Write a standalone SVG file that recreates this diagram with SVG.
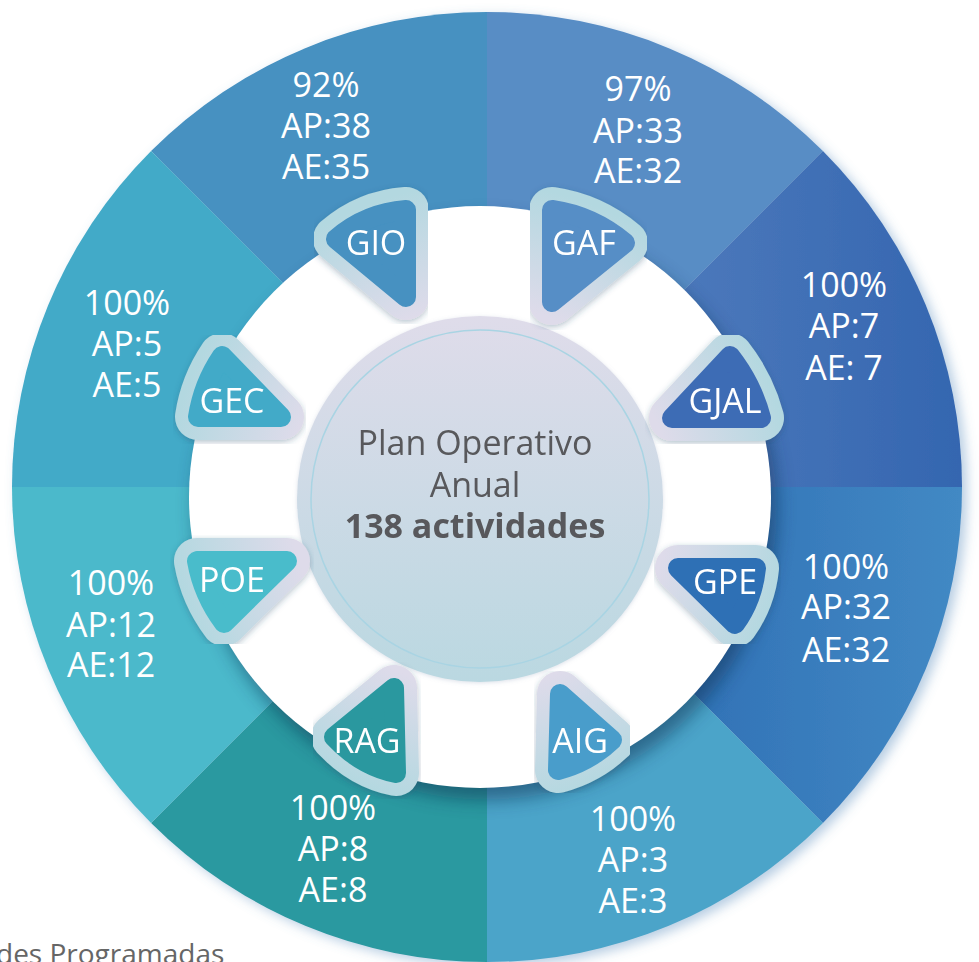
<svg xmlns="http://www.w3.org/2000/svg" width="979" height="962" viewBox="0 0 979 962">
<defs>
<style>
.lbl{font-family:"Open Sans","Noto Sans",sans-serif;font-size:34px;fill:#ffffff;text-anchor:middle}
.ctr{font-family:"Open Sans","Noto Sans",sans-serif;font-size:34px;fill:#58595b;text-anchor:middle}
.bo{fill:url(#bg);stroke:url(#bg);stroke-width:46;stroke-linejoin:round}
.bi{stroke-width:20;stroke-linejoin:round}
.foot{font-family:"Open Sans","Noto Sans",sans-serif;font-size:28px;fill:#666666}
</style>
<radialGradient id="bg" gradientUnits="userSpaceOnUse" cx="480" cy="497" r="330">
<stop offset="0.58" stop-color="#dedbea"/>
<stop offset="0.95" stop-color="#b3d8e0"/>
</radialGradient>
<linearGradient id="cg" x1="0" y1="0" x2="0" y2="1">
<stop offset="0" stop-color="#dfdcea"/>
<stop offset="1" stop-color="#bad8e1"/>
</linearGradient>
<linearGradient id="gjal" gradientUnits="userSpaceOnUse" x1="690" y1="0" x2="960" y2="0">
<stop offset="0" stop-color="#4b78bb"/>
<stop offset="1" stop-color="#3466b0"/>
</linearGradient>
<linearGradient id="gpe" gradientUnits="userSpaceOnUse" x1="700" y1="0" x2="960" y2="0">
<stop offset="0" stop-color="#3273b7"/>
<stop offset="1" stop-color="#4289c4"/>
</linearGradient>
<filter id="rs" x="-5%" y="-5%" width="115%" height="115%">
<feDropShadow dx="5" dy="4" stdDeviation="6" flood-color="#5d90bf" flood-opacity="0.45"/>
</filter>
<filter id="bl" x="-10%" y="-10%" width="120%" height="120%">
<feGaussianBlur stdDeviation="9"/>
</filter>
<filter id="ds" x="-30%" y="-30%" width="160%" height="160%">
<feDropShadow dx="0" dy="2" stdDeviation="3" flood-color="#2b4f6e" flood-opacity="0.35"/>
</filter>
<filter id="cs" x="-10%" y="-10%" width="120%" height="120%">
<feDropShadow dx="0" dy="1" stdDeviation="2" flood-color="#8a9ab8" flood-opacity="0.3"/>
</filter>
</defs>

<g id="ring" filter="url(#rs)">
<path d="M487,487 L151.1,151.1 A475,475 0 0 1 487,12 Z" fill="#4691c1"/>
<path d="M487,487 L487,12 A475,475 0 0 1 822.9,151.1 Z" fill="#588dc5"/>
<path d="M487,487 L822.9,151.1 A475,475 0 0 1 962,487 Z" fill="url(#gjal)"/>
<path d="M487,487 L962,487 A475,475 0 0 1 822.9,822.9 Z" fill="url(#gpe)"/>
<path d="M487,487 L822.9,822.9 A475,475 0 0 1 487,962 Z" fill="#4ba4c9"/>
<path d="M487,487 L487,962 A475,475 0 0 1 151.1,822.9 Z" fill="#2a99a0"/>
<path d="M487,487 L151.1,822.9 A475,475 0 0 1 12,487 Z" fill="#4bb9cb"/>
<path d="M487,487 L12,487 A475,475 0 0 1 151.1,151.1 Z" fill="#42aac8"/>
</g>
<circle cx="486" cy="509" r="291" fill="#082f50" opacity="0.5" filter="url(#bl)"/>
<circle cx="480" cy="497" r="291" fill="#ffffff"/>

<g id="sector-labels">
<text class="lbl"><tspan x="326" y="97">92%</tspan><tspan x="326" y="138">AP:38</tspan><tspan x="326" y="179">AE:35</tspan></text>
<text class="lbl"><tspan x="638" y="101">97%</tspan><tspan x="638" y="143">AP:33</tspan><tspan x="638" y="183">AE:32</tspan></text>
<text class="lbl"><tspan x="844" y="297">100%</tspan><tspan x="844" y="338">AP:7</tspan><tspan x="844" y="380">AE: 7</tspan></text>
<text class="lbl"><tspan x="846" y="579">100%</tspan><tspan x="846" y="619">AP:32</tspan><tspan x="846" y="662">AE:32</tspan></text>
<text class="lbl"><tspan x="633" y="831">100%</tspan><tspan x="633" y="872">AP:3</tspan><tspan x="633" y="913">AE:3</tspan></text>
<text class="lbl"><tspan x="333" y="820">100%</tspan><tspan x="333" y="861">AP:8</tspan><tspan x="333" y="902">AE:8</tspan></text>
<text class="lbl"><tspan x="111" y="595">100%</tspan><tspan x="111" y="637">AP:12</tspan><tspan x="111" y="677">AE:12</tspan></text>
<text class="lbl"><tspan x="127" y="315">100%</tspan><tspan x="127" y="356">AP:5</tspan><tspan x="127" y="397">AE:5</tspan></text>
</g>

<g id="center" filter="url(#cs)">
<circle cx="480" cy="499" r="183" fill="url(#cg)"/>
<circle cx="480" cy="499" r="169" fill="none" stroke="#a9d4e3" stroke-width="1.5"/>
<text class="ctr"><tspan x="475" y="455">Plan Operativo</tspan><tspan x="475" y="497">Anual</tspan><tspan x="475" y="538" font-weight="700">138 actividades</tspan></text>
</g>

<g id="GIO" filter="url(#ds)">
<path class="bo" d="M336,239 Q366,213 406,210 L406,297 Z"/>
<path class="bi" fill="#4691c1" stroke="#4691c1" d="M336,239 Q366,213 406,210 L406,297 Z"/>
<text class="lbl" x="376" y="255">GIO</text>
</g>
<g id="GAF" filter="url(#ds)">
<path class="bo" d="M552,210 Q593,216 625,243 L552,302 Z"/>
<path class="bi" fill="#568ec6" stroke="#568ec6" d="M552,210 Q593,216 625,243 L552,302 Z"/>
<text class="lbl" x="584" y="255">GAF</text>
</g>
<g id="GJAL" filter="url(#ds)">
<path class="bo" d="M730,356 Q752,384 761,418 L672,418 Z"/>
<path class="bi" fill="#3e6cb5" stroke="#3e6cb5" d="M730,356 Q752,384 761,418 L672,418 Z"/>
<text class="lbl" x="725" y="413">GJAL</text>
</g>
<g id="GPE" filter="url(#ds)">
<path class="bo" d="M678,568 L756,568 Q753,599 735,624 Z"/>
<path class="bi" fill="#2f6fb5" stroke="#2f6fb5" d="M678,568 L756,568 Q753,599 735,624 Z"/>
<text class="lbl" x="725" y="594">GPE</text>
</g>
<g id="AIG" filter="url(#ds)">
<path class="bo" d="M560,694 L612,740 Q589,762 558,770 Z"/>
<path class="bi" fill="#4a9dcb" stroke="#4a9dcb" d="M560,694 L612,740 Q589,762 558,770 Z"/>
<text class="lbl" x="580" y="753">AIG</text>
</g>
<g id="RAG" filter="url(#ds)">
<path class="bo" d="M334,737 L394,688 L396,773 Q361,766 334,737 Z"/>
<path class="bi" fill="#2a989f" stroke="#2a989f" d="M334,737 L394,688 L396,773 Q361,766 334,737 Z"/>
<text class="lbl" x="367" y="753">RAG</text>
</g>
<g id="POE" filter="url(#ds)">
<path class="bo" d="M197,561 L287,561 L224,623 Q203,595 197,561 Z"/>
<path class="bi" fill="#4abccb" stroke="#4abccb" d="M197,561 L287,561 L224,623 Q203,595 197,561 Z"/>
<text class="lbl" x="232" y="592">POE</text>
</g>
<g id="GEC" filter="url(#ds)">
<path class="bo" d="M222,356 L281,417 L198,417 Q203,384 222,356 Z"/>
<path class="bi" fill="#42aac8" stroke="#42aac8" d="M222,356 L281,417 L198,417 Q203,384 222,356 Z"/>
<text class="lbl" x="232" y="413">GEC</text>
</g>

<g id="connectors"/>

<text class="foot" x="-4" y="964">des Programadas</text>
</svg>
